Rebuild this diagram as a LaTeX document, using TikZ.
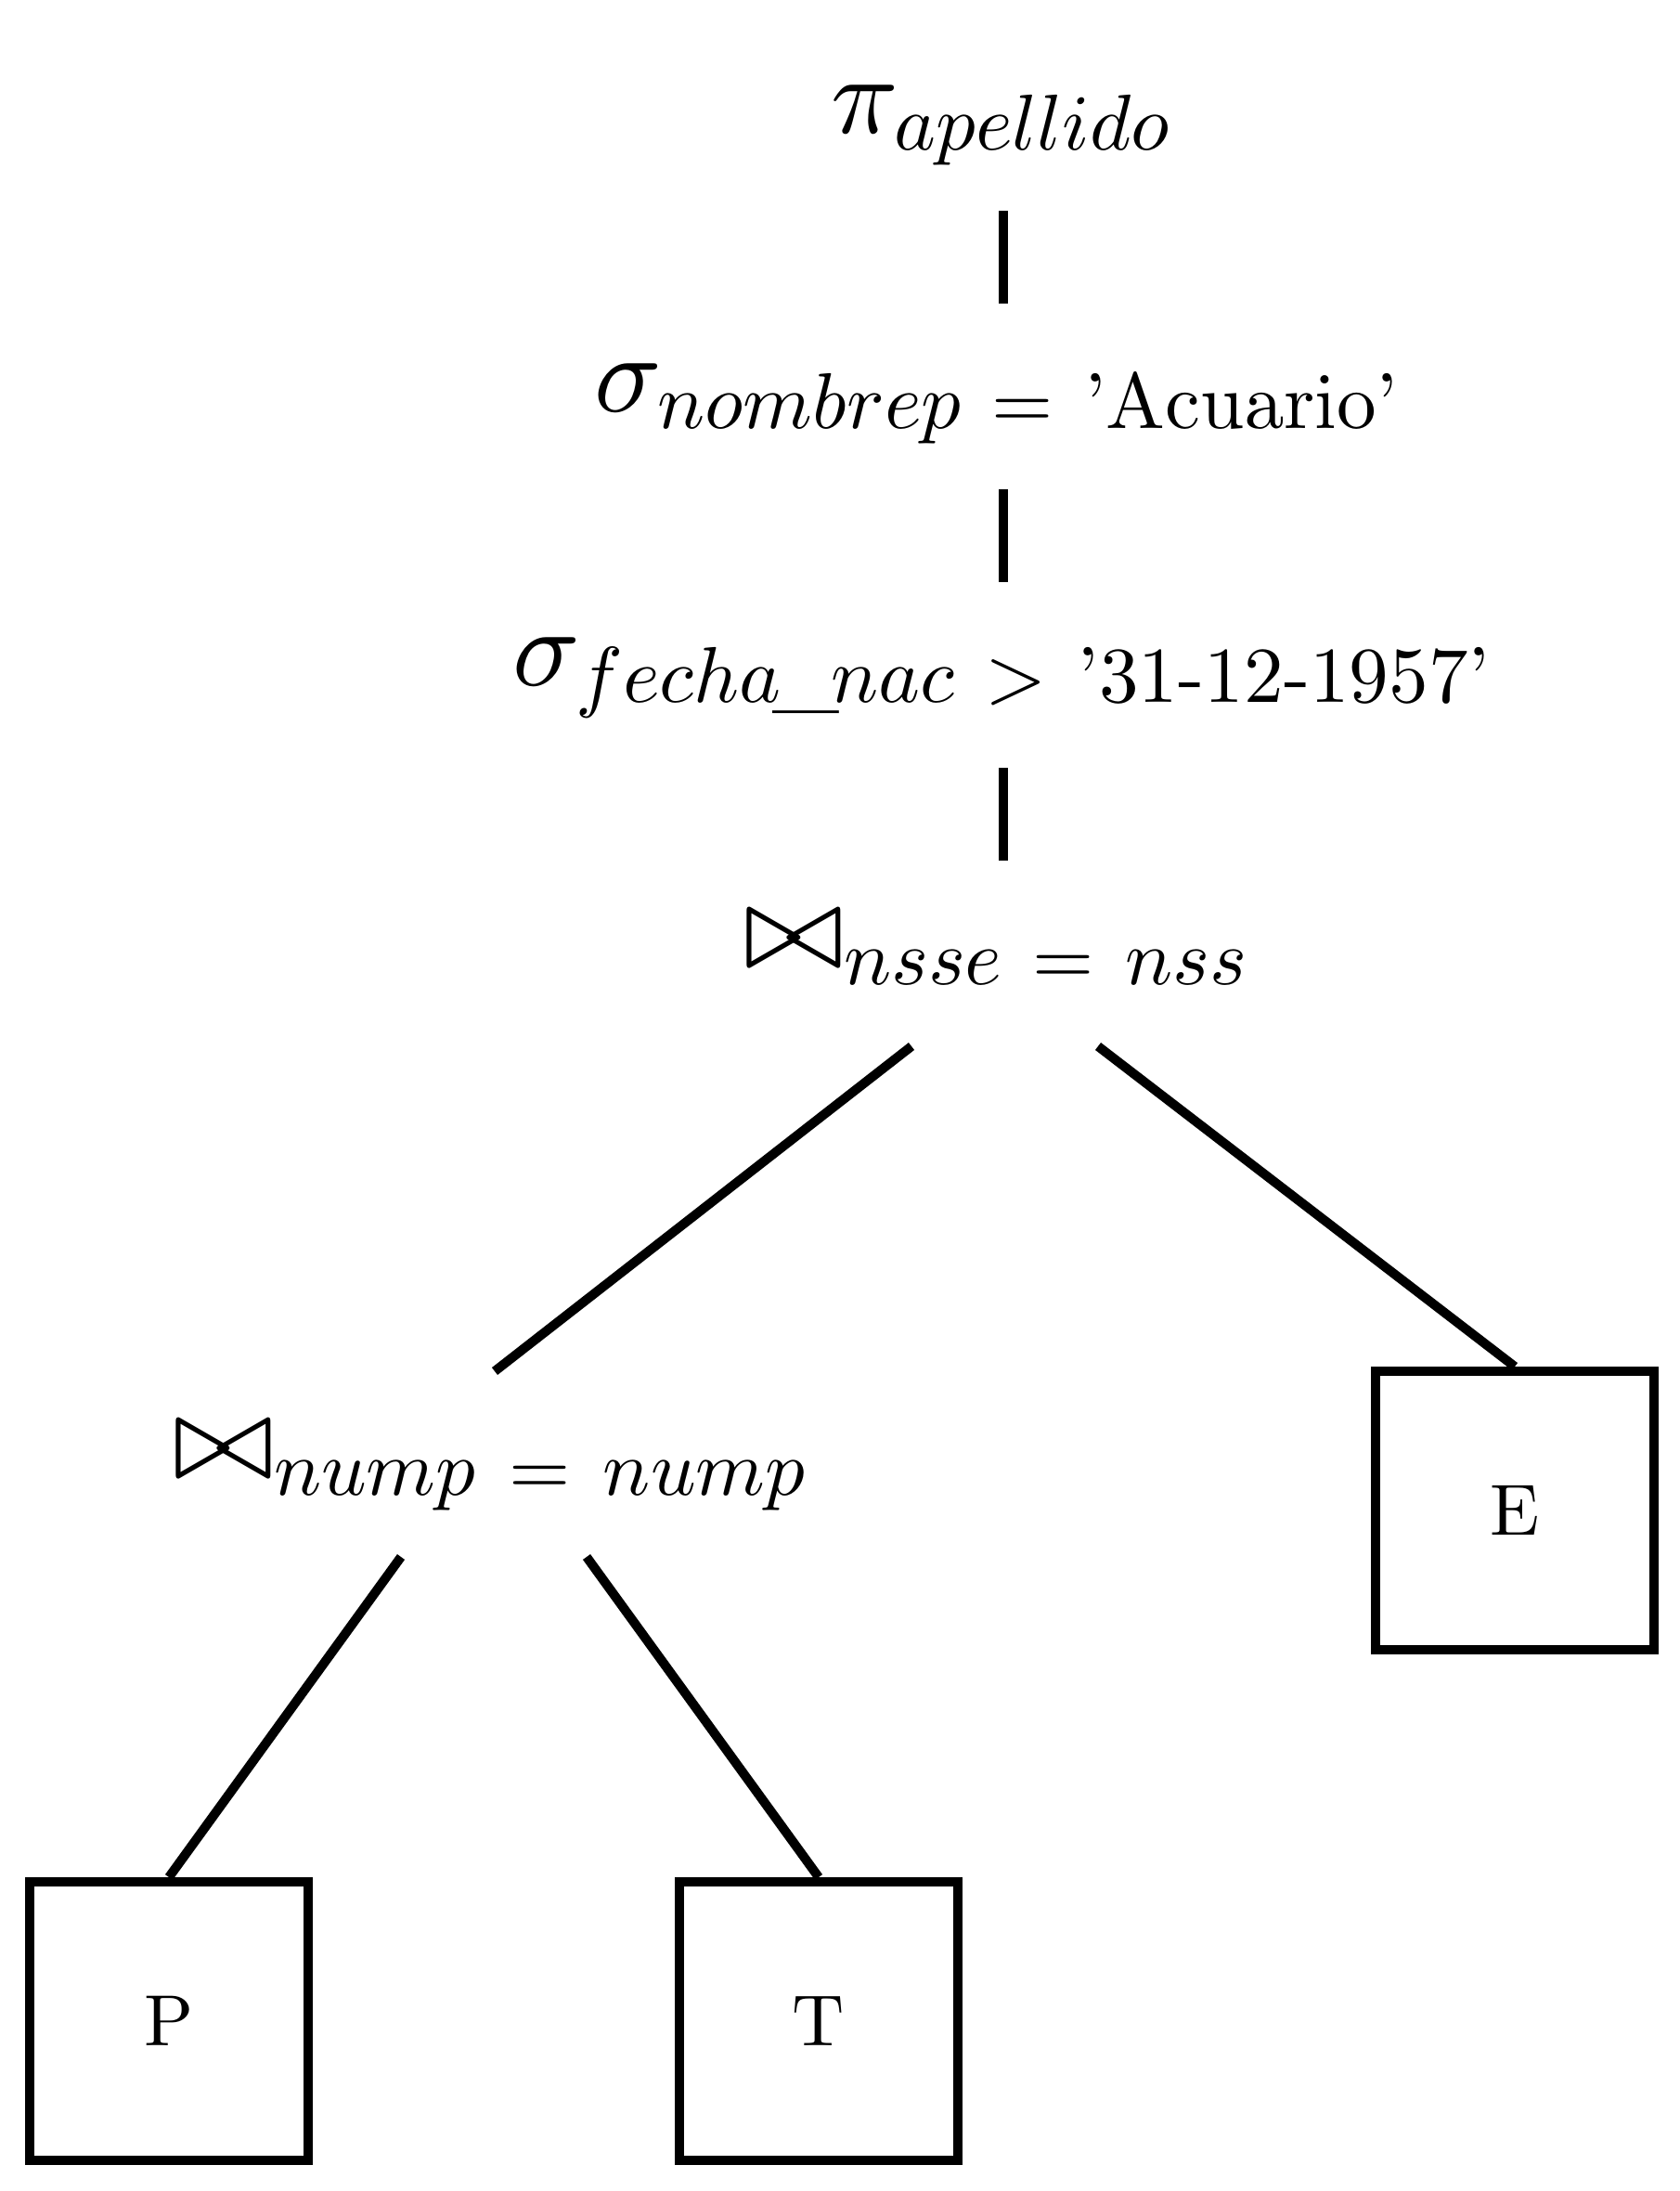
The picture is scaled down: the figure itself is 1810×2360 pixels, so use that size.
\documentclass[tikz,border=0pt]{standalone}
\usepackage{amsmath}
\usepackage{graphicx}
\DeclareFontFamily{OML}{mycmm}{\skewchar\font'177}
\DeclareFontShape{OML}{mycmm}{m}{it}{<->cmmi10}{}
\DeclareFontFamily{OT1}{mycmr}{\hyphenchar\font45}
\DeclareFontShape{OT1}{mycmr}{m}{n}{<->cmr10}{}
\DeclareFontFamily{OMS}{mycmsy}{\skewchar\font'60}
\DeclareFontShape{OMS}{mycmsy}{m}{n}{<->cmsy10}{}
\DeclareSymbolFont{letters}{OML}{mycmm}{m}{it}
\DeclareSymbolFont{operators}{OT1}{mycmr}{m}{n}
\DeclareSymbolFont{symbols}{OMS}{mycmsy}{m}{n}
\DeclareMathSizes{10}{10}{7.1}{5}
\newcommand{\cmtext}[1]{\text{\fontencoding{OT1}\fontfamily{mycmr}\fontseries{m}\fontshape{n}\selectfont #1}}
\newcommand{\gap}{\mskip7mu}
\newcommand{\bigjoin}{\mathrel{\scalebox{1.08}{$\bowtie$}}}
\newcommand{\uscore}{\mkern-2mu\_\mkern-2mu}
\begin{document}
\begin{tikzpicture}[x=0.083333pt, y=-0.083333pt,
  lbl/.style={inner sep=0pt, outer sep=0pt, anchor=base west},
  rel/.style={draw, line width=0.8333pt, minimum width=25pt, minimum height=25pt,
    inner sep=0pt, font=\fontencoding{OT1}\fontfamily{mycmr}\fontsize{6.5}{7.8}\selectfont},
  edge/.style={line width=0.8333pt}]
\useasboundingbox (0,0) rectangle (1810,2360);
% labels
\node[lbl] (pi) at (895,143) {$\pi_{apellido}$};
\node[lbl] (sig1) at (640,443) {$\sigma_{nombrep\gap=\gap\cmtext{'Acuario'}}$};
\node[lbl] (sig2) at (552,738) {$\sigma_{fecha\uscore nac\gap>\gap\cmtext{'31-12-1957'}}$};
\node[lbl] (j1) at (801,1042) {$\bigjoin_{nsse\gap=\gap nss}$};
\node[lbl] (j2) at (187,1592) {$\bigjoin_{nump\mskip7.5mu=\mskip7.5mu nump}$};
% relations
\node[rel] (E) at (1632,1627) {E};
\node[rel] (P) at (182,2177) {P};
\node[rel] (T) at (882,2177) {T};
% connector ends
\coordinate (pi-b) at (1081,227);
\coordinate (s1-t) at (1081,327);
\coordinate (s1-b) at (1081,527);
\coordinate (s2-t) at (1081,627);
\coordinate (s2-b) at (1081,827);
\coordinate (j1-t) at (1081,927);
\coordinate (j1-bl) at (982,1127);
\coordinate (j1-br) at (1183,1127);
\coordinate (j2-t) at (533,1477);
\coordinate (j2-bl) at (432,1677);
\coordinate (j2-br) at (632,1677);
% connectors
\draw[edge] (pi-b) -- (s1-t);
\draw[edge] (s1-b) -- (s2-t);
\draw[edge] (s2-b) -- (j1-t);
\draw[edge] (j1-bl) -- (j2-t);
\draw[edge] (j1-br) -- (E.north);
\draw[edge] (j2-bl) -- (P.north);
\draw[edge] (j2-br) -- (T.north);
\end{tikzpicture}
\end{document}
